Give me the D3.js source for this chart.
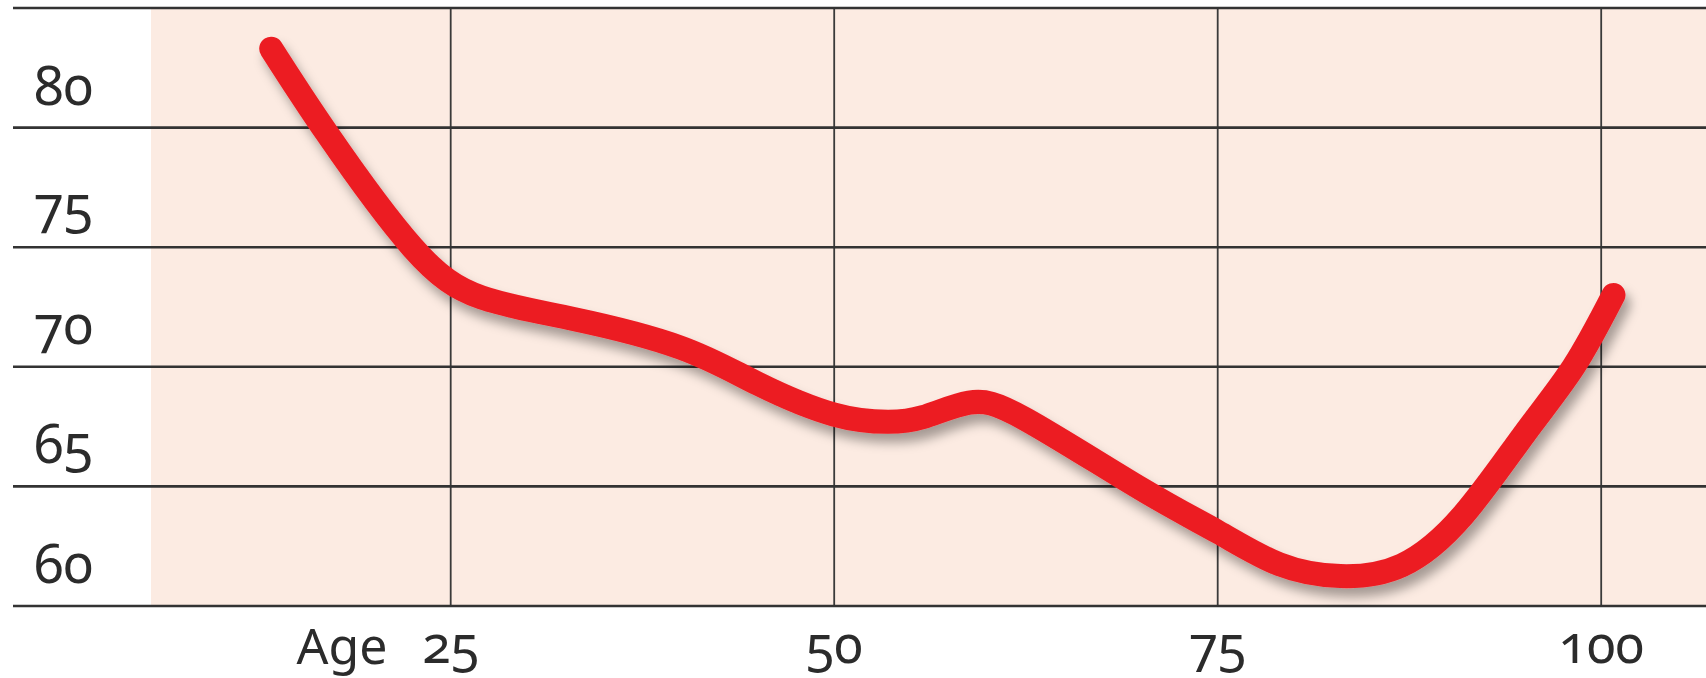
<!DOCTYPE html>
<html>
<head>
<meta charset="utf-8">
<script src="https://cdn.jsdelivr.net/npm/d3@7"></script>
<style>
  html, body { margin: 0; padding: 0; background: #ffffff; }
  svg { display: block; }
  text { font-family: "Noto Sans", "Open Sans", sans-serif; font-feature-settings: "onum" 1; font-variant-numeric: oldstyle-nums; fill: #2b2b2b; }
</style>
</head>
<body>
<svg id="chart" width="1706" height="678"></svg>
<script>
// ---- data ----
const ages   = [13.3, 17, 22.5, 27, 33, 40, 45, 50, 53.5, 55.8, 58.8, 62.5, 70, 75, 79, 83, 87, 91, 95, 98.2, 100.8];
const values = [83.3, 79.7, 75.0, 72.9, 72.0, 70.8, 69.3, 68.0, 67.7, 67.9, 68.5, 67.8, 64.9, 63.1, 61.75, 61.25, 61.7, 63.8, 67.2, 70.0, 73.0];
const xTicks = [25, 50, 75, 100];
const yGridValues = [60, 65, 70, 75, 80, 85];
const yLabelValues = [60, 65, 70, 75, 80];
const xAxisTitle = "Age";

// ---- layout ----
const W = 1706, H = 678;
const svg = d3.select("#chart");

const x = d3.scaleLinear().domain([25, 100]).range([450.7, 1601.2]);
const y = d3.scaleLinear().domain([60, 85]).range([606, 8]);

const plotLeft = 151, lineLeft = 13;

// shadow filter
const defs = svg.append("defs");
const f = defs.append("filter").attr("id", "shadow")
  .attr("x", "-10%").attr("y", "-10%").attr("width", "120%").attr("height", "130%");
f.append("feDropShadow").attr("dx", 5).attr("dy", 9).attr("stdDeviation", 5.5)
  .attr("flood-color", "#000").attr("flood-opacity", 0.34);

// pink background
svg.append("rect")
  .attr("x", plotLeft).attr("y", y(85))
  .attr("width", W - plotLeft).attr("height", y(60) - y(85))
  .attr("fill", "#fcebe2");

// vertical grid
svg.append("g").selectAll("line").data(xTicks).join("line")
  .attr("x1", d => x(d)).attr("x2", d => x(d))
  .attr("y1", y(85)).attr("y2", y(60))
  .attr("stroke", "#3a3a3a").attr("stroke-width", 1.8);

// horizontal grid
svg.append("g").selectAll("line").data(yGridValues).join("line")
  .attr("x1", lineLeft).attr("x2", W)
  .attr("y1", d => y(d)).attr("y2", d => y(d))
  .attr("stroke", "#333333").attr("stroke-width", 2.6);

// y labels (sit above their line)
svg.append("g").selectAll("text").data(yLabelValues).join("text")
  .attr("x", 34).attr("y", d => y(d) - 23)
  .attr("font-size", 54)
  .text(d => d);

// x labels
svg.append("g").selectAll("text").data(xTicks).join("text")
  .attr("x", d => x(d)).attr("y", 663)
  .attr("text-anchor", "middle")
  .attr("font-size", 52)
  .text(d => d);

svg.append("text")
  .attr("x", 342).attr("y", 664)
  .attr("text-anchor", "middle")
  .attr("font-size", 50)
  .text(xAxisTitle);

// the curve
const pts = ages.map((a, i) => [a, values[i]]);
const line = d3.line()
  .x(d => x(d[0])).y(d => y(d[1]))
  .curve(d3.curveNatural);

svg.append("path")
  .attr("d", line(pts))
  .attr("fill", "none")
  .attr("stroke", "#ec1c24")
  .attr("stroke-width", 24)
  .attr("stroke-linecap", "round")
  .attr("stroke-linejoin", "round")
  .attr("filter", "url(#shadow)");
</script>
</body>
</html>
